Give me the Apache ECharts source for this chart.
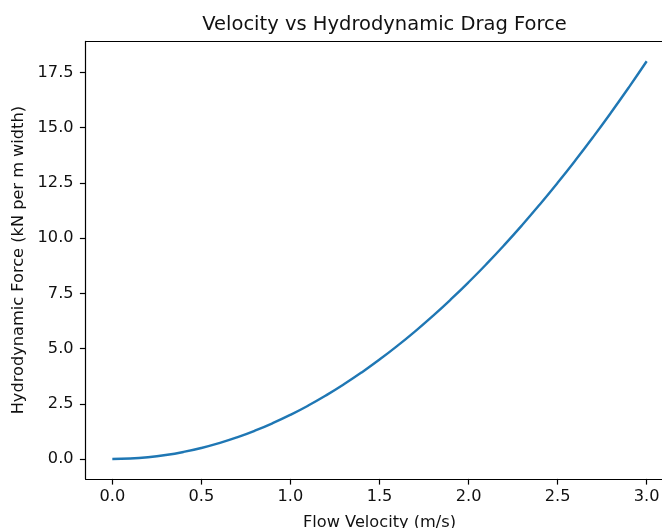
<!DOCTYPE html>
<html><head><meta charset="utf-8">
<script src="https://cdn.jsdelivr.net/npm/echarts@6/dist/echarts.min.js"></script>
<style>html,body{margin:0;padding:0;background:#fff}#c{width:662px;height:528px}</style>
</head><body><div id="c"></div>
<script>
const velocity = [0.0,0.1,0.2,0.3,0.4,0.5,0.6,0.7,0.8,0.9,1.0,1.1,1.2,1.3,1.4,1.5,1.6,1.7,1.8,1.9,2.0,2.1,2.2,2.3,2.4,2.5,2.6,2.7,2.8,2.9,3.0];
const force = [0.0,0.02,0.08,0.18,0.32,0.5,0.72,0.98,1.28,1.62,2.0,2.42,2.88,3.38,3.92,4.5,5.12,5.78,6.48,7.22,8.0,8.82,9.68,10.58,11.52,12.5,13.52,14.58,15.68,16.82,18.0];
const xTicks = [0.0,0.5,1.0,1.5,2.0,2.5,3.0];
const yTicks = [0.0,2.5,5.0,7.5,10.0,12.5,15.0,17.5];
const titleText = 'Velocity vs Hydrodynamic Drag Force';
const xName = 'Flow Velocity (m/s)';
const yName = 'Hydrodynamic Force (kN per m width)';

const chart = echarts.init(document.getElementById('c'), null, {renderer:'canvas'});
const font = 'DejaVu Sans';
chart.setOption({
  animation:false,
  backgroundColor:'#fff',
  title:{text:titleText,left:379.5,top:10,textAlign:'center',textStyle:{fontFamily:font,fontSize:19.5,fontWeight:'normal',color:'#111'}},
  grid:{left:85.6,top:41.4,width:587.8,height:437.5,show:false,outerBoundsMode:'none',containLabel:false},
  xAxis:[{type:'value',min:-0.15,max:3.15,
    axisLine:{show:true,onZero:false,lineStyle:{color:'#000',width:1.2}},
    splitLine:{show:false},
    axisTick:{show:true,length:5.7,lineStyle:{color:'#000',width:1.2},customValues:xTicks},
    axisLabel:{customValues:xTicks,margin:10,fontFamily:font,fontSize:16.2,color:'#111',formatter:v=>v.toFixed(1)},
    name:xName,nameLocation:'middle',nameGap:36,nameTextStyle:{fontFamily:font,fontSize:16.2,color:'#111'}
  },{type:'value',position:'top',min:-0.15,max:3.15,
    axisLine:{show:true,onZero:false,lineStyle:{color:'#000',width:1.2}},
    splitLine:{show:false},axisTick:{show:false},axisLabel:{show:false}
  }],
  yAxis:{type:'value',min:-0.9,max:18.9,
    axisLine:{show:true,onZero:false,lineStyle:{color:'#000',width:1.2}},
    splitLine:{show:false},
    axisTick:{show:true,length:5.7,lineStyle:{color:'#000',width:1.2},customValues:yTicks},
    axisLabel:{customValues:yTicks,margin:12,fontFamily:font,fontSize:16.2,color:'#111',formatter:v=>v.toFixed(1)},
    name:yName,nameLocation:'middle',nameGap:57,nameRotate:90,nameTextStyle:{fontFamily:font,fontSize:16.2,color:'#111'}
  },
  series:[{type:'line',xAxisIndex:0,data:velocity.map((v,i)=>[v,force[i]]),showSymbol:false,smooth:true,clip:false,
    lineStyle:{color:'#1f77b4',width:2.4},itemStyle:{color:'#1f77b4'}}]
});
</script></body></html>
